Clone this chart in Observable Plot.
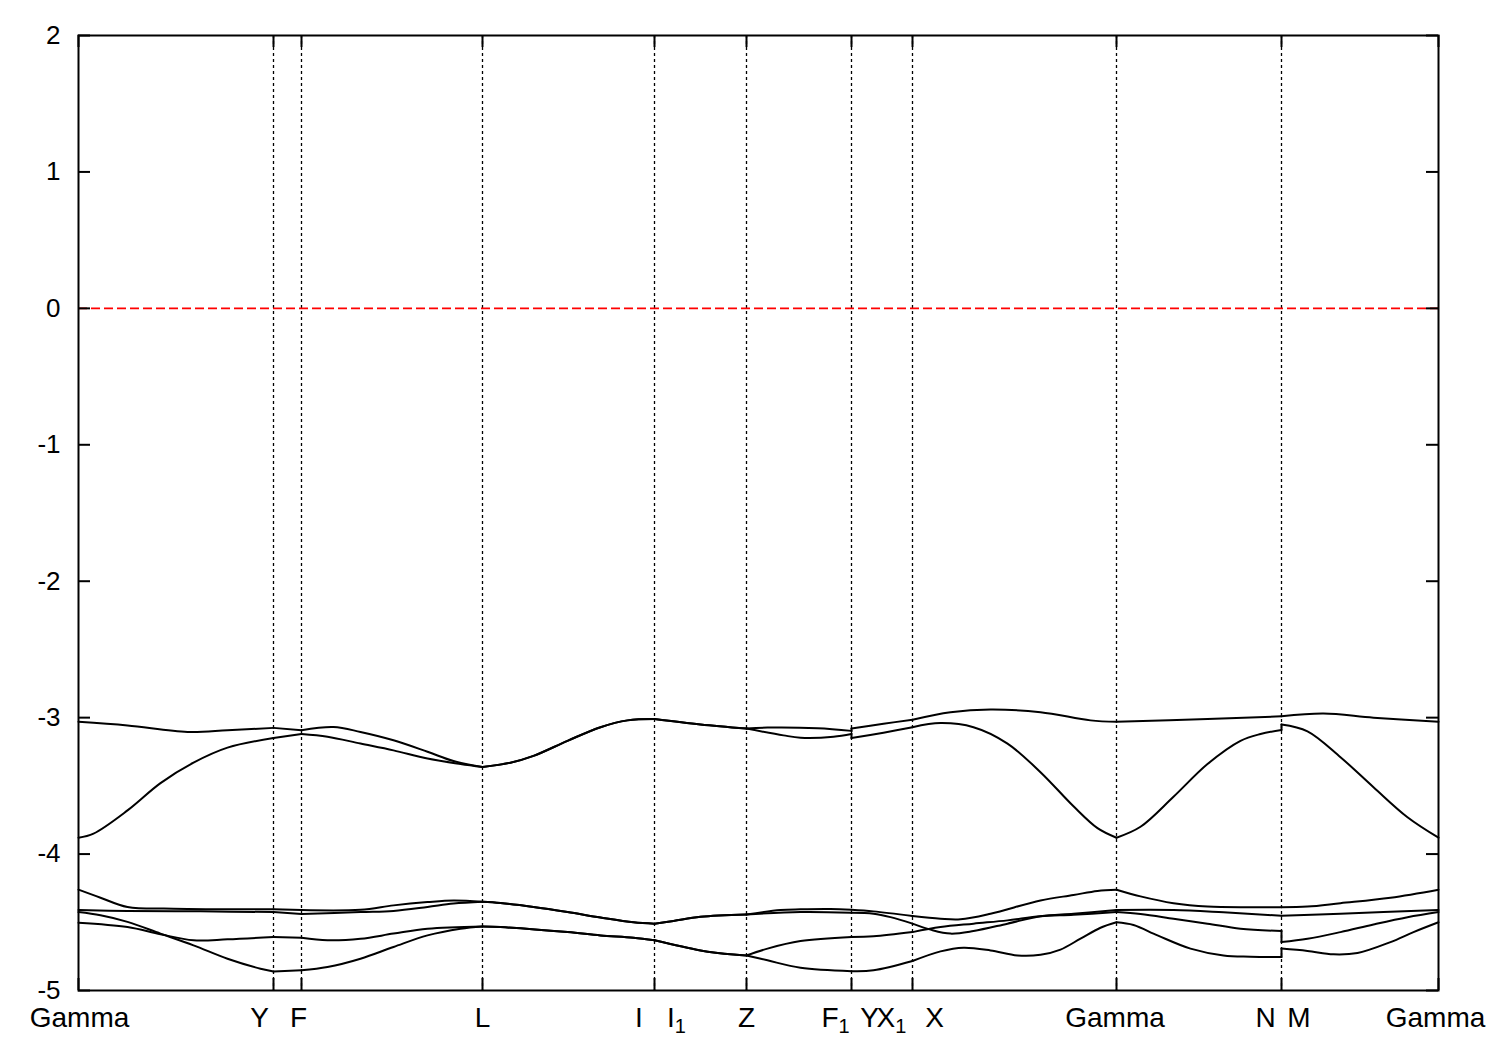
<!DOCTYPE html>
<html>
<head>
<meta charset="utf-8">
<script src="https://cdn.jsdelivr.net/npm/d3@7"></script>
<script src="https://cdn.jsdelivr.net/npm/@observablehq/plot@0.6"></script>
<style>
  html, body { margin: 0; padding: 0; background: #ffffff; }
  svg { display: block; }
</style>
</head>
<body>
<script>
// ---- data: k-path positions of the high-symmetry points ----
const kTicks = [0, 1.95, 2.23, 4.04, 5.76, 6.68, 7.73, 8.34, 10.38, 12.03, 13.60];
const kLabels = ["Gamma", "Y", "F", "L", "I", "I_1", "Z", "F_1", "Y", "X_1", "X", "Gamma", "N", "M", "Gamma"];
const kLabelAt = [0, 1.95, 2.23, 4.04, 5.76, 5.76, 6.68, 7.73, 7.73, 8.34, 8.34, 10.38, 12.03, 12.03, 13.60];
const yTicks = [-5, -4, -3, -2, -1, 0, 1, 2];
const fermiLevel = [0];

// ---- band energies (eV): [k, E] ----
const bandU1 = [[0,-3.03],[0.49,-3.057],[1.09,-3.105],[1.49,-3.093],[1.95,-3.075],[2.23,-3.092],[2.55,-3.068],[2.82,-3.105],[3.15,-3.166],[3.49,-3.25],[3.75,-3.318],[4.04,-3.362],
  [4.32,-3.33],[4.55,-3.28],[4.89,-3.17],[5.22,-3.07],[5.49,-3.02],[5.76,-3.01],
  [6.22,-3.05],[6.68,-3.08],
  [6.89,-3.073],[7.39,-3.078],[7.73,-3.097],[7.73,-3.08],
  [8.05,-3.045],[8.34,-3.015],
  [8.72,-2.96],[9.12,-2.94],[9.62,-2.96],[10.12,-3.02],[10.38,-3.03],
  [11.29,-3.01],[12.03,-2.99],
  [12.45,-2.97],[12.95,-3.0],[13.60,-3.03]];
const bandU2 = [[0,-3.88],[0.15,-3.85],[0.49,-3.68],[0.82,-3.48],[1.15,-3.33],[1.49,-3.22],[1.95,-3.15],[2.23,-3.12],
  [2.49,-3.14],[2.82,-3.19],[3.15,-3.24],[3.49,-3.30],[3.82,-3.34],[4.04,-3.362],
  [4.32,-3.33],[4.55,-3.28],[4.89,-3.17],[5.22,-3.07],[5.49,-3.02],[5.76,-3.01],
  [6.22,-3.05],[6.68,-3.08],
  [7.05,-3.13],[7.22,-3.147],[7.55,-3.14],[7.73,-3.12],[7.73,-3.15],
  [8.05,-3.11],[8.34,-3.07],
  [8.62,-3.04],[8.95,-3.07],[9.29,-3.19],[9.62,-3.40],[9.95,-3.65],[10.19,-3.81],[10.38,-3.88],
  [10.62,-3.80],[10.95,-3.58],[11.29,-3.34],[11.62,-3.17],[11.82,-3.12],[12.03,-3.09],[12.03,-3.05],
  [12.29,-3.10],[12.62,-3.29],[12.95,-3.51],[13.29,-3.73],[13.60,-3.88]];
const bandL1 = [[0,-4.261],[0.22,-4.32],[0.49,-4.388],[0.95,-4.40],[1.95,-4.405],[2.23,-4.41],[2.82,-4.408],[3.15,-4.376],[3.49,-4.352],[3.75,-4.34],[4.04,-4.35],
  [4.22,-4.359],[4.55,-4.388],[4.89,-4.425],[5.22,-4.465],[5.55,-4.50],[5.76,-4.51],
  [5.95,-4.49],[6.22,-4.46],[6.68,-4.443],
  [7.02,-4.41],[7.22,-4.405],[7.52,-4.403],[7.73,-4.408],
  [7.95,-4.42],[8.34,-4.454],
  [8.62,-4.474],[8.82,-4.478],[9.12,-4.437],[9.62,-4.34],[9.95,-4.30],[10.19,-4.27],[10.38,-4.261],
  [10.62,-4.31],[10.95,-4.36],[11.29,-4.385],[11.72,-4.39],[12.03,-4.39],
  [12.29,-4.385],[12.62,-4.36],[13.12,-4.32],[13.60,-4.261]];
const bandL2 = [[0,-4.41],[0.49,-4.417],[1.22,-4.42],[1.95,-4.425],[2.23,-4.44],[2.82,-4.425],[3.15,-4.417],[3.49,-4.388],[3.75,-4.363],[4.04,-4.35],
  [4.22,-4.359],[4.55,-4.388],[4.89,-4.425],[5.22,-4.465],[5.55,-4.50],[5.76,-4.51],
  [5.95,-4.49],[6.22,-4.46],[6.68,-4.443],
  [7.22,-4.425],[7.73,-4.43],
  [7.95,-4.437],[8.12,-4.462],[8.34,-4.51],
  [8.52,-4.554],[8.72,-4.583],[8.95,-4.564],[9.29,-4.51],[9.62,-4.456],[9.95,-4.437],[10.38,-4.41],
  [10.95,-4.41],[11.45,-4.427],[12.03,-4.452],
  [12.62,-4.437],[13.60,-4.41]];
const bandL3 = [[0,-4.503],[0.49,-4.535],[0.82,-4.588],[1.15,-4.632],[1.49,-4.625],[1.95,-4.608],[2.23,-4.613],[2.49,-4.632],[2.82,-4.621],[3.15,-4.583],[3.49,-4.547],[4.04,-4.53],
  [4.22,-4.535],[4.89,-4.572],[5.22,-4.596],[5.55,-4.613],[5.76,-4.632],
  [6.22,-4.706],[6.55,-4.737],[6.68,-4.743],
  [6.89,-4.693],[7.22,-4.638],[7.73,-4.608],
  [7.95,-4.603],[8.34,-4.572],
  [8.62,-4.535],[8.95,-4.51],[9.29,-4.486],[9.62,-4.456],[9.95,-4.445],[10.38,-4.425],
  [10.62,-4.44],[10.95,-4.474],[11.29,-4.51],[11.62,-4.547],[12.03,-4.564],[12.03,-4.645],
  [12.29,-4.621],[12.62,-4.572],[12.95,-4.516],[13.29,-4.463],[13.60,-4.425]];
const bandL4 = [[0,-4.425],[0.22,-4.449],[0.49,-4.497],[0.82,-4.583],[1.15,-4.669],[1.49,-4.767],[1.82,-4.84],[1.95,-4.86],[2.23,-4.852],[2.49,-4.828],[2.82,-4.767],[3.15,-4.681],[3.49,-4.596],[3.82,-4.547],[4.04,-4.53],
  [4.22,-4.535],[4.89,-4.572],[5.22,-4.596],[5.55,-4.613],[5.76,-4.632],
  [6.22,-4.706],[6.55,-4.737],[6.68,-4.743],
  [6.89,-4.779],[7.22,-4.833],[7.73,-4.858],
  [7.95,-4.852],[8.34,-4.784],
  [8.62,-4.713],[8.85,-4.686],[9.12,-4.706],[9.39,-4.743],[9.62,-4.738],[9.82,-4.70],[10.02,-4.62],[10.22,-4.54],[10.38,-4.50],
  [10.55,-4.52],[10.79,-4.596],[11.12,-4.693],[11.45,-4.743],[11.72,-4.752],[12.03,-4.755],[12.03,-4.693],
  [12.29,-4.71],[12.55,-4.735],[12.79,-4.725],[13.12,-4.645],[13.35,-4.572],[13.60,-4.50]];

const bands = {U1: bandU1, U2: bandU2, L1: bandL1, L2: bandL2, L3: bandL3, L4: bandL4};

// ---- layout (not data) ----
const labelDx = [1, -14, -3, 0, -15.5, 22, 0, -16, 18, -21, 22, -1.5, -16, 17.5, -3];
const FONT = "'Liberation Sans', Arial, Helvetica, sans-serif";

// split each band into smooth pieces between high-symmetry points, with vertical jumps
const isTick = k => kTicks.some(t => Math.abs(t - k) < 1e-9);
const rows = [];
for (const [name, pts] of Object.entries(bands)) {
  const segs = [];
  let cur = [pts[0]];
  for (let i = 1; i < pts.length; i++) {
    const p = pts[i], prev = pts[i - 1];
    if (p[0] === prev[0]) { segs.push(cur); segs.push([prev, p]); cur = [p]; continue; }
    cur.push(p);
    if (isTick(p[0]) && i < pts.length - 1 && pts[i + 1][0] !== p[0]) { segs.push(cur); cur = [p]; }
  }
  segs.push(cur);
  segs.forEach((s, j) => s.forEach(([k, E]) => rows.push({z: name + "-" + j, k, E})));
}

const labelRows = kLabels.map((label, i) => ({label, k: kLabelAt[i]}));
const innerTicks = kTicks.slice(1, -1);

const plot = Plot.plot({
  width: 1500,
  height: 1050,
  marginLeft: 78,
  marginRight: 62,
  marginTop: 35,
  marginBottom: 60,
  style: {fontFamily: FONT, background: "#ffffff", color: "#000000"},
  x: {domain: [0, 13.6], axis: null},
  y: {domain: [-5, 2], axis: null},
  marks: [
    Plot.ruleX(innerTicks, {x: d => d, stroke: "#000", strokeWidth: 1.3, strokeDasharray: "3,3"}),
    Plot.ruleY(fermiLevel, {y: d => d, stroke: "#ff0000", strokeWidth: 1.7, strokeDasharray: "9,4"}),
    Plot.line(rows, {x: "k", y: "E", z: "z", curve: "catmull-rom", stroke: "#000", strokeWidth: 2}),
    Plot.tickY(yTicks, {y: d => d, insetRight: 1348, stroke: "#000", strokeWidth: 2}),
    Plot.tickY(yTicks, {y: d => d, insetLeft: 1348, stroke: "#000", strokeWidth: 2}),
    Plot.tickX(kTicks, {x: d => d, insetTop: 943, stroke: "#000", strokeWidth: 2}),
    Plot.tickX(kTicks, {x: d => d, insetBottom: 943, stroke: "#000", strokeWidth: 2}),
    Plot.frame({stroke: "#000", strokeWidth: 2}),
    Plot.axisY(yTicks, {tickSize: 0, tickPadding: 18, fontSize: 26, label: null, tickFormat: d => String(d), fill: "#000"}),
    ...labelRows.map((r, i) => Plot.text([r], {
      x: "k", text: "label", frameAnchor: "bottom", lineAnchor: "top",
      dy: 17, dx: labelDx[i], fontSize: 28, fill: "#000", className: "klabel"
    }))
  ]
});

// render subscripts (e.g. I_1) as real subscript text
plot.querySelectorAll("text").forEach(t => {
  const s = t.textContent;
  const m = s.match(/^(.*)_(.+)$/);
  if (m) {
    t.textContent = m[1];
    const ts = document.createElementNS("http://www.w3.org/2000/svg", "tspan");
    ts.setAttribute("font-size", "20");
    ts.setAttribute("dy", "6");
    ts.textContent = m[2];
    t.appendChild(ts);
  }
});

document.body.appendChild(plot);
</script>
</body>
</html>
